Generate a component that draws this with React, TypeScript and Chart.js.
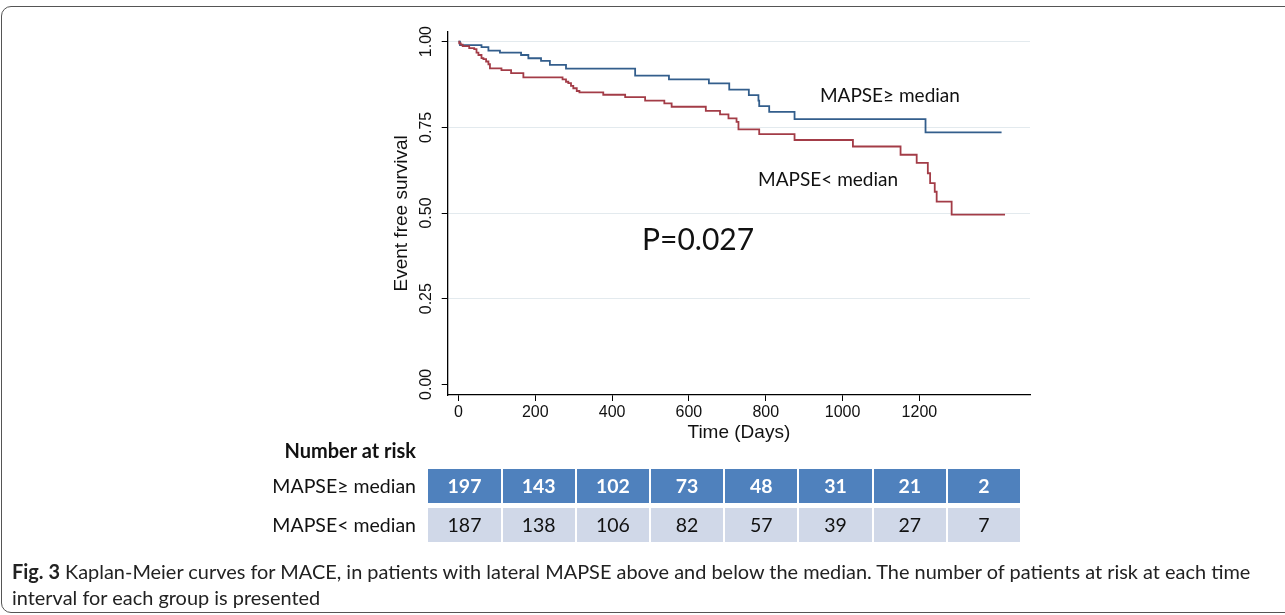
import React, { useEffect, useRef, useState } from 'react';
import { Chart, registerables } from 'chart.js';
Chart.register(...registerables);

// ---- Data ----
const highDays = [0, 4, 60, 78, 108, 163, 182, 215, 238, 280, 460, 548, 652, 705, 756, 781, 783, 809, 875, 1216, 1414];
const highSurv = [1.0, 0.990, 0.984, 0.974, 0.968, 0.961, 0.9515, 0.944, 0.932, 0.921, 0.901, 0.890, 0.878, 0.860, 0.844, 0.828, 0.812, 0.795, 0.774, 0.735, 0.735];

const lowDays = [0, 2, 6, 11, 28, 41, 47, 52, 60, 65, 72, 78, 82, 112, 137, 169, 271, 280, 286, 293, 299, 308, 315, 377, 434, 486, 536, 555, 644, 681, 703, 724, 729, 783, 875, 1027, 1151, 1193, 1222, 1228, 1240, 1245, 1284, 1423];
const lowSurv = [1.0, 0.995, 0.991, 0.987, 0.981, 0.978, 0.968, 0.961, 0.952, 0.949, 0.942, 0.934, 0.922, 0.917, 0.908, 0.896, 0.890, 0.883, 0.879, 0.871, 0.864, 0.856, 0.852, 0.845, 0.838, 0.828, 0.820, 0.810, 0.798, 0.788, 0.776, 0.766, 0.744, 0.730, 0.713, 0.694, 0.670, 0.646, 0.616, 0.587, 0.562, 0.533, 0.495, 0.495];

const xTicks = [0, 200, 400, 600, 800, 1000, 1200];
const yTicks = [0, 0.25, 0.5, 0.75, 1.0];

const groupLabels = ['MAPSE≥ median', 'MAPSE< median'];
const riskHigh = [197, 143, 102, 73, 48, 31, 21, 2];
const riskLow = [187, 138, 106, 82, 57, 39, 27, 7];

const pValueText = 'P=0.027';
const captionBold = 'Fig. 3';
const captionLine1 = ' Kaplan-Meier curves for MACE, in patients with lateral MAPSE above and below the median. The number of patients at risk at each time';
const captionLine2 = 'interval for each group is presented';

const BLUE = '#335e8c';
const RED = '#a33c47';
const AXIS_FONT = '"Liberation Sans", Arial, Helvetica, sans-serif';
const TEXT_FONT = 'Lato, "Open Sans", sans-serif';

const annotations = [
  { text: groupLabels[0], day: 941, surv: 0.8415, size: 19 },
  { text: groupLabels[1], day: 780, surv: 0.596, size: 19 },
  { text: pValueText, day: 478, surv: 0.421, size: 30 },
];

const annotationPlugin = {
  id: 'kmAnnotations',
  afterDatasetsDraw(chart: any) {
    const { ctx, scales } = chart;
    ctx.save();
    ctx.fillStyle = '#111';
    ctx.textAlign = 'left';
    ctx.textBaseline = 'middle';
    for (const a of annotations) {
      ctx.font = `${a.size}px ${TEXT_FONT}`;
      ctx.fillText(a.text, scales.x.getPixelForValue(a.day), scales.y.getPixelForValue(a.surv));
    }
    ctx.restore();
  },
};

function KMChart() {
  const ref = useRef<HTMLCanvasElement>(null);
  useEffect(() => {
    const canvas = ref.current!;
    const chart = new Chart(canvas, {
      type: 'line',
      data: {
        datasets: [
          {
            data: lowDays.map((d, i) => ({ x: d, y: lowSurv[i] })),
            borderColor: RED,
            borderWidth: 1.8,
            stepped: 'before',
            pointRadius: 0,
            fill: false,
          },
          {
            data: highDays.map((d, i) => ({ x: d, y: highSurv[i] })),
            borderColor: BLUE,
            borderWidth: 1.8,
            stepped: 'before',
            pointRadius: 0,
            fill: false,
          },
        ],
      },
      options: {
        responsive: false,
        animation: false,
        layout: { padding: { left: 390.6, right: 255, top: 31.7, bottom: 170.6 } },
        plugins: { legend: { display: false }, tooltip: { enabled: false } },
        scales: {
          x: {
            type: 'linear',
            min: -28,
            max: 1488,
            afterBuildTicks: (s: any) => { s.ticks = xTicks.map((v) => ({ value: v })); },
            afterFit: (s: any) => { s.height = 49.4; },
            grid: { drawOnChartArea: false, drawTicks: true, tickLength: 6, tickColor: '#000', tickWidth: 1 },
            border: { display: true, color: '#000', width: 1.3 },
            ticks: {
              font: { family: AXIS_FONT, size: 16 },
              color: '#111',
              padding: 2,
              maxRotation: 0,
              autoSkip: false,
              includeBounds: false,
              callback: (v: any) => String(v),
            },
            title: { display: true, text: 'Time (Days)', font: { family: AXIS_FONT, size: 19 }, color: '#111', padding: { top: 0, bottom: 0 } },
          },
          y: {
            type: 'linear',
            min: -0.031,
            max: 1.029,
            afterBuildTicks: (s: any) => { s.ticks = yTicks.map((v) => ({ value: v })); },
            afterFit: (s: any) => { s.width = 57.1; },
            grid: {
              color: (c: any) => (c.tick && c.tick.value === 0 ? 'rgba(0,0,0,0)' : '#e3eaee'),
              lineWidth: 1,
              drawTicks: true,
              tickLength: 6,
              tickColor: '#000',
              tickWidth: 1,
            },
            border: { display: true, color: '#000', width: 1.3 },
            ticks: {
              minRotation: 90,
              maxRotation: 90,
              crossAlign: 'center',
              padding: 0,
              includeBounds: false,
              font: { family: AXIS_FONT, size: 16 },
              color: '#111',
              callback: (v: any) => Number(v).toFixed(2),
            },
            title: { display: true, text: 'Event free survival', font: { family: AXIS_FONT, size: 19 }, color: '#111', padding: { top: 0, bottom: 0 } },
          },
        },
      } as any,
      plugins: [annotationPlugin],
    });
    return () => chart.destroy();
  }, []);
  return <canvas ref={ref} width={1285} height={615} style={{ position: 'absolute', left: 0, top: 0, width: 1285, height: 615 }} />;
}

function Caption() {
  const ref1 = useRef<HTMLDivElement>(null);
  const [scale, setScale] = useState(1);
  useEffect(() => {
    const measure = () => {
      if (ref1.current) {
        const w = ref1.current.scrollWidth;
        if (w > 0) setScale(1238 / w);
      }
    };
    measure();
    (document as any).fonts?.ready?.then(measure);
  }, []);
  const common: React.CSSProperties = {
    position: 'absolute',
    left: 12,
    whiteSpace: 'nowrap',
    fontFamily: TEXT_FONT,
    fontSize: 20,
    color: '#222',
    transformOrigin: 'left center',
    transform: `scaleX(${scale})`,
    lineHeight: '22px',
  };
  return (
    <>
      <div ref={ref1} style={{ ...common, top: 560, display: 'inline-block' }}>
        <b>{captionBold}</b>{captionLine1}
      </div>
      <div style={{ ...common, top: 586 }}>{captionLine2}</div>
    </>
  );
}

function RiskTable() {
  const cellLeft = 428.4;
  const cellW = 74.2;
  const rows = [
    { label: groupLabels[0], values: riskHigh, top: 469, bg: '#4f81bd', color: '#fff', weight: 700 },
    { label: groupLabels[1], values: riskLow, top: 508, bg: '#d0d8e8', color: '#111', weight: 400 },
  ];
  return (
    <>
      <div style={{ position: 'absolute', right: 1285 - 416, top: 437, height: 26, lineHeight: '26px', fontFamily: TEXT_FONT, fontSize: 20, fontWeight: 700, color: '#111', whiteSpace: 'nowrap' }}>
        Number at risk
      </div>
      {rows.map((r) => (
        <React.Fragment key={r.label}>
          <div style={{ position: 'absolute', right: 1285 - 416, top: r.top, height: 34, lineHeight: '34px', fontFamily: TEXT_FONT, fontSize: 19.5, color: '#111', whiteSpace: 'nowrap' }}>
            {r.label}
          </div>
          {r.values.map((v, i) => (
            <div
              key={i}
              style={{
                position: 'absolute',
                left: cellLeft + i * cellW,
                top: r.top,
                width: cellW - 2,
                height: 34,
                lineHeight: '34px',
                background: r.bg,
                color: r.color,
                fontWeight: r.weight,
                fontFamily: TEXT_FONT,
                fontSize: 19.5,
                textAlign: 'center',
              }}
            >
              {v}
            </div>
          ))}
        </React.Fragment>
      ))}
    </>
  );
}

export default function App() {
  return (
    <div style={{ position: 'fixed', left: 0, top: 0, width: 1285, height: 615, background: '#fff', overflow: 'hidden' }}>
      <div style={{ position: 'absolute', left: 1, top: 6, width: 1330, height: 607, border: '1.5px solid #555', borderRadius: 10, boxSizing: 'border-box' }} />
      <KMChart />
      <RiskTable />
      <Caption />
    </div>
  );
}
